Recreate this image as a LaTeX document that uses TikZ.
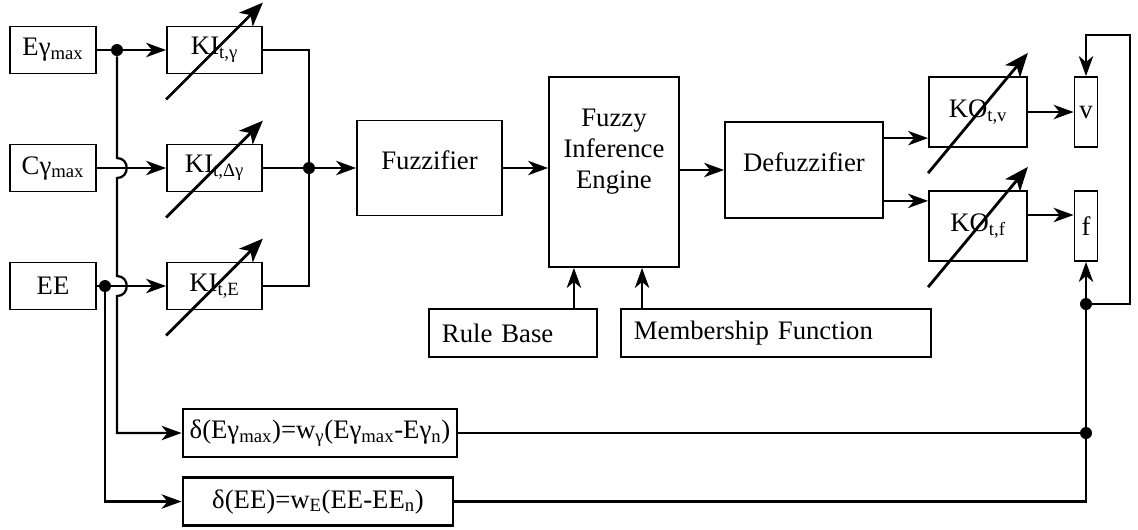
\documentclass[tikz,border=0pt]{standalone}
\usepackage{fontspec}
\setmainfont{Liberation Serif}
\usetikzlibrary{arrows.meta}

\begin{document}
\begin{tikzpicture}[x=0.025cm, y=-0.025cm,
    every node/.style={font=\fontsize{19}{22}\selectfont},
    blk/.style={draw, line width=1.3pt, inner sep=2pt},
    inbox/.style={blk, minimum width=2.15cm, minimum height=1.175cm},
    kbox/.style={blk, minimum width=2.375cm, minimum height=1.175cm},
    kobox/.style={blk, minimum width=2.45cm, minimum height=1.76cm},
    outbox/.style={blk, minimum width=0.575cm, minimum height=1.75cm, inner sep=0pt},
    listbox/.style={blk, minimum height=1.2cm, inner xsep=0.325cm, align=left},
    dbox/.style={draw, line width=2pt, minimum height=1.2cm},
    dot/.style={fill=black, circle, inner sep=0pt, minimum size=0.3cm},
    wire/.style={line width=1.6pt},
    arr/.style={line width=1.6pt, -{Stealth[length=0.5cm, width=0.36cm, inset=0.15cm]}},
    adj/.style={line width=2pt, -{Stealth[length=0.6cm, width=0.48cm, inset=0.16cm]}}
]
\useasboundingbox (0,0) rectangle (1138,529);

% ================================================================
%  Inputs and input gains
% ================================================================
\node[inbox] (ein)  at (53,50)  {Eγ\textsubscript{max}};
\node[inbox] (cin)  at (53,168) {Cγ\textsubscript{max}};
\node[inbox] (eein) at (53,286) {EE};

\node[kbox] (kig) at (214.5,50)  {KI\textsubscript{t,γ}};
\node[kbox] (kid) at (214.5,168) {KI\textsubscript{t,Δγ}};
\node[kbox] (kie) at (214.5,286) {KI\textsubscript{t,E}};

\node[dot] (j1) at (117,50)  {};
\node[dot] (j2) at (105,286) {};
\node[dot] (jn) at (309,168) {};

% ================================================================
%  Fuzzy controller
% ================================================================
\node[blk, minimum width=3.625cm, minimum height=2.375cm,
      label={[yshift=0.2cm]center:Fuzzifier}] (fuz) at (429.5,168) {};
\node[blk, minimum width=3.25cm, minimum height=4.75cm,
      label={[align=center, yshift=0.5cm]center:Fuzzy\\Inference\\Engine}] (fie) at (614,172) {};
\node[blk, minimum width=3.95cm, minimum height=2.4cm,
      label={[yshift=0.2cm]center:Defuzzifier}] (dfz) at (804,170) {};

\node[listbox, text width=3.55cm] (rb) at (513,333) {Rule Base};
\node[listbox, text width=7.1cm]  (mf) at (776,333) {Membership Function};

% output gains and outputs
\node[kobox] (kov) at (978,112) {KO\textsubscript{t,v}};
\node[kobox] (kof) at (978,226) {KO\textsubscript{t,f}};
\node[outbox] (vv) at (1086,112) {v};
\node[outbox] (ff) at (1086,226) {f};

% deviation blocks
\node[dbox, minimum width=6.85cm] (dEg) at (320,433)
    {δ(Eγ\textsubscript{max})=w\textsubscript{γ}(Eγ\textsubscript{max}-Eγ\textsubscript{n})};
\node[dbox, minimum width=6.75cm] (dEE) at (318,501.5)
    {δ(EE)=w\textsubscript{E}(EE-EE\textsubscript{n})};

\node[dot] (j3) at (1086,433) {};
\node[dot] (j4) at (1086,304) {};
\coordinate (fbk) at (1130,35);

% ================================================================
%  Connections
% ================================================================
\draw[arr] (ein) -- (kig);
\draw[arr] (cin) -- (kid);
\draw[arr] (eein) -- (kie);

\draw[wire] (kig.east) -| (jn.center) |- (kie.east);
\draw[wire] (kid) -- (jn);
\draw[arr] (jn) -- (fuz);
\draw[arr] (fuz) -- (fuz -| fie.west);
\draw[arr] (dfz.west -| fie.east) -- (dfz);

\coordinate (rbo) at ([xshift=-0.6cm]rb.north east);
\coordinate (mfo) at ([xshift=0.55cm]mf.north west);
\draw[arr] (rbo) -- (rbo |- fie.south);
\draw[arr] (mfo) -- (mfo |- fie.south);

\coordinate (kovin) at ([yshift=0.25cm]kov.south west);
\coordinate (kofin) at ([yshift=-0.275cm]kof.north west);
\draw[arr] (dfz.east |- kovin) -- (kovin);
\draw[arr] (dfz.east |- kofin) -- (kofin);
\draw[arr] (kov) -- (vv);
\draw[arr] ([yshift=0.275cm]kof.east) -- ([yshift=0.275cm]ff.west);

% left side, lines hop over the inputs
\coordinate (h1) at (j1 |- cin);
\coordinate (h2) at (j1 |- eein);
\draw[arr] (j1) -- ([yshift=0.25cm]h1)
    .. controls +(13,0) and +(13,0) .. ([yshift=-0.25cm]h1)
    -- ([yshift=0.25cm]h2)
    .. controls +(13,0) and +(13,0) .. ([yshift=-0.25cm]h2) |- (dEg);
\draw[arr] (j2) |- (dEE);

% right side feedback
\draw[wire] (dEg) -- (j3);
\draw[wire] (dEE) -| (j3);
\draw[wire] (j3) -- (j4);
\draw[arr] (j4) -- (ff);
\draw[arr] (j4) -| (fbk) -| (vv.north);

% adjustable gains
\foreach \k in {kig,kid,kie,kov,kof}
    \draw[adj] ([yshift=-0.625cm]\k.south west) -- ([yshift=0.575cm]\k.north east);
\end{tikzpicture}
\end{document}
